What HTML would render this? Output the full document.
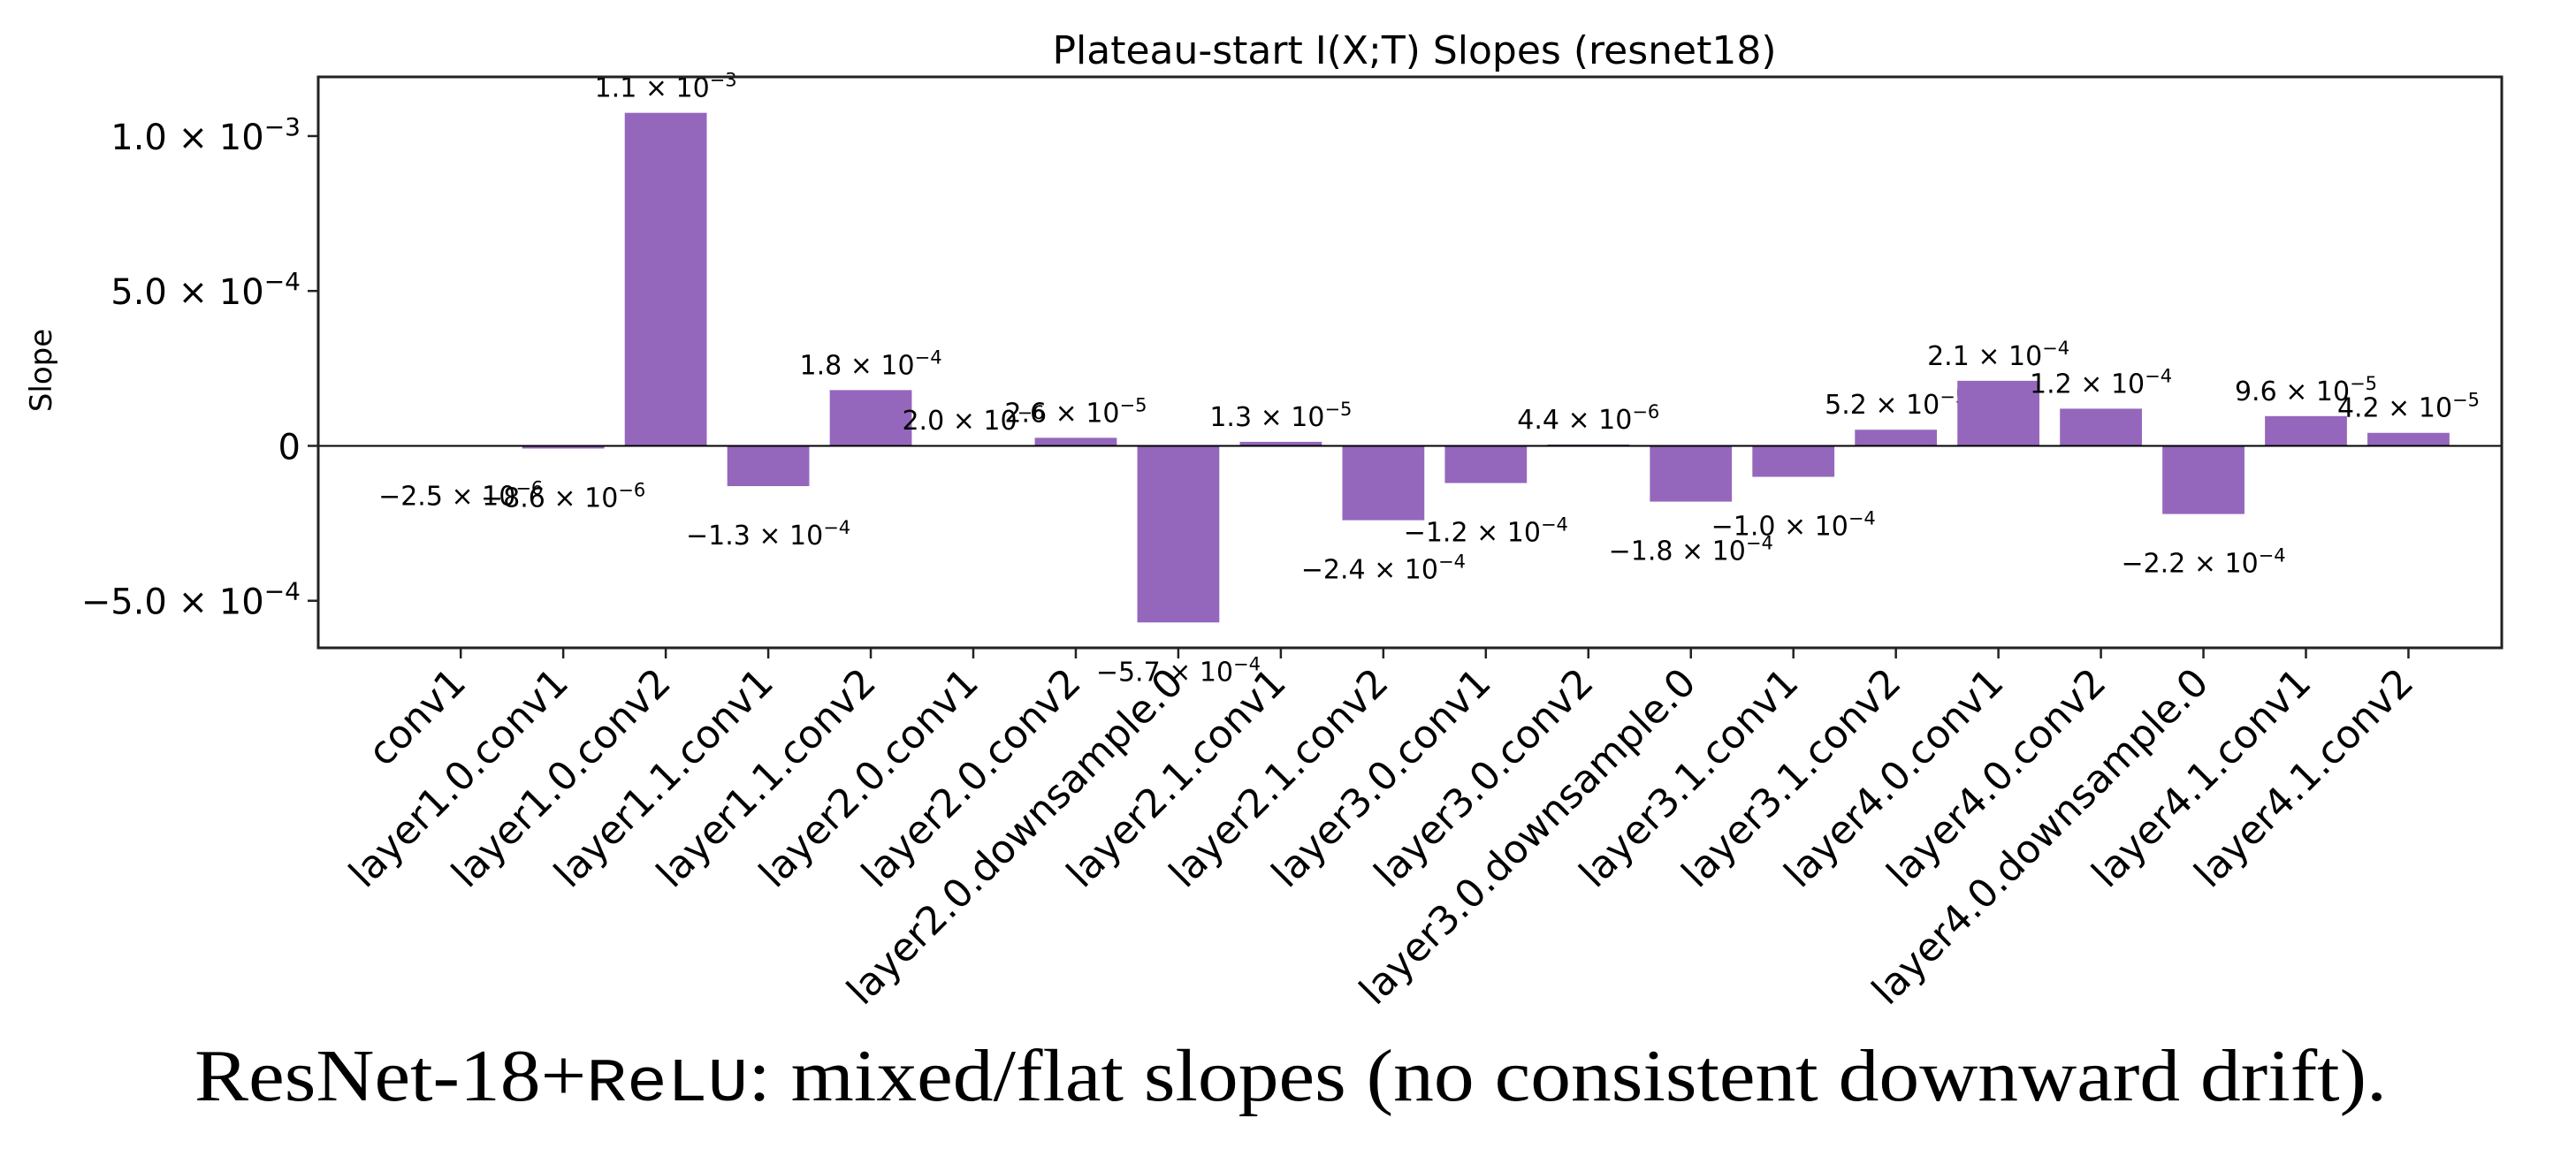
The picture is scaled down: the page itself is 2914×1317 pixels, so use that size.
<!DOCTYPE html>
<html><head><meta charset="utf-8"><style>
html,body{margin:0;padding:0;background:#fff;}
svg{display:block;}
</style></head><body>
<svg id="chart" width="2914" height="1317" xmlns="http://www.w3.org/2000/svg" font-family="'DejaVu Sans','Liberation Sans',sans-serif">
<rect width="2914" height="1317" fill="#fff"/>
<text x="1600" y="72" font-size="44" text-anchor="middle">Plateau-start I(X;T) Slopes (resnet18)</text>
<text transform="translate(58,419) rotate(-90)" font-size="34" text-anchor="middle">Slope</text>
<g id="plot"></g>
<text x="1460" y="1245" font-size="84" text-anchor="middle" font-family="'Liberation Serif',serif" textLength="2480" lengthAdjust="spacingAndGlyphs">ResNet-18+<tspan font-family="'Liberation Mono',monospace" font-size="70">ReLU</tspan>: mixed/flat slopes (no consistent downward drift).</text>
</svg>
<script>
const categories = ["conv1","layer1.0.conv1","layer1.0.conv2","layer1.1.conv1","layer1.1.conv2","layer2.0.conv1","layer2.0.conv2","layer2.0.downsample.0","layer2.1.conv1","layer2.1.conv2","layer3.0.conv1","layer3.0.conv2","layer3.0.downsample.0","layer3.1.conv1","layer3.1.conv2","layer4.0.conv1","layer4.0.conv2","layer4.0.downsample.0","layer4.1.conv1","layer4.1.conv2"];
const slopes = [-2.5e-6,-8.6e-6,1.075e-3,-1.3e-4,1.8e-4,2.0e-6,2.6e-5,-5.7e-4,1.3e-5,-2.4e-4,-1.2e-4,4.4e-6,-1.8e-4,-1.0e-4,5.2e-5,2.1e-4,1.2e-4,-2.2e-4,9.6e-5,4.2e-5];
const yTicks = [-5e-4, 0, 5e-4, 1e-3];
const yTickMant = ["\u22125.0","0","5.0","1.0"];
const yTickExp = ["\u22124","","\u22124","\u22123"];

const NS="http://www.w3.org/2000/svg";
const L=360,R=2830,T=87,B=733;
const xmin=-1.39,xmax=categories.length-1+0.91;
const X=i=>L+(i-xmin)/(xmax-xmin)*(R-L);
const ymin=-6.52e-4,ymax=1.191e-3;
const Y=v=>B-(v-ymin)/(ymax-ymin)*(B-T);
const g=document.getElementById('plot');
function mk(t,a){const e=document.createElementNS(NS,t);for(const k in a)e.setAttribute(k,a[k]);g.appendChild(e);return e;}
function sci(v){
  if(v===0) return ["0",""];
  const e=Math.floor(Math.log10(Math.abs(v))+1e-9);
  let m=v/Math.pow(10,e);
  let ms=(Math.abs(m)).toFixed(1);
  if(ms==="10.0"){ms="1.0";}
  return [(v<0?"\u2212":"")+ms, "\u2212"+Math.abs(e)];
}
function sciText(x,y,mant,exp,size,anchor,name){
  const t=mk('text',{x:x,y:y,'font-size':size,'text-anchor':anchor});
  
  
  if(!exp){t.textContent=mant;return t;}
  const a=document.createElementNS(NS,'tspan');a.textContent=mant+" \u00d7 10";t.appendChild(a);
  const b=document.createElementNS(NS,'tspan');b.setAttribute('dy',-size*0.4);b.setAttribute('font-size',size*0.7);b.textContent=exp;t.appendChild(b);
  return t;
}
const bw=0.8*(X(1)-X(0));
slopes.forEach((v,i)=>{
  const y0=Y(0),y1=Y(v);
  const r=mk('rect',{x:X(i)-bw/2,y:Math.min(y0,y1),width:bw,height:Math.max(Math.abs(y1-y0),0.5),fill:'#9467bd'});
  
  
  const [m,e]=sci(v);
  const ly = v>=0 ? y1-18 : y1+66;
  sciText(X(i),ly,m,e,30,'middle','value-label-'+categories[i]);
});
const zl=mk('line',{x1:L,x2:R,y1:Y(0),y2:Y(0),stroke:'#000','stroke-width':2});


const fr=mk('rect',{x:L,y:T,width:R-L,height:B-T,fill:'none',stroke:'#222','stroke-width':3});


yTicks.forEach((v,i)=>{
  const y=Y(v);
  const tk=mk('line',{x1:L-12,x2:L,y1:y,y2:y,stroke:'#222','stroke-width':2.5});
  
  
  sciText(L-20,y+15,yTickMant[i],yTickExp[i],40,'end','y-tick-label');
});
categories.forEach((c,i)=>{
  const x=X(i);
  const tk=mk('line',{x1:x,x2:x,y1:B,y2:B+12,stroke:'#222','stroke-width':2.5});
  
  
  const t=mk('text',{transform:`translate(${x+8},${B+42}) rotate(-45)`,'font-size':44,'text-anchor':'end'});
  
  
  t.textContent=c;
});
</script>
</body></html>
